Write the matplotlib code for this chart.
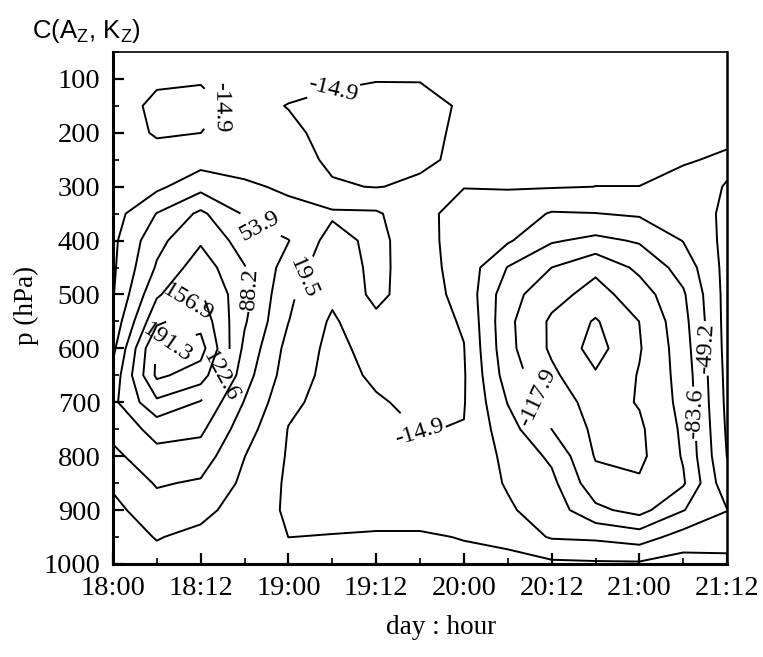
import numpy as np
import matplotlib
matplotlib.use("Agg")
import matplotlib.pyplot as plt
from matplotlib.ticker import MultipleLocator

plt.rcParams["font.family"] = ["Liberation Serif", "DejaVu Serif"]

############ Data: C(Az, Kz) cross-section (6-hourly, 50 hPa)
hours = [0, 6, 12, 18, 24, 30, 36, 42, 48, 54, 60, 66, 72, 78, 84]
pressure = [50, 100, 150, 200, 250, 300, 350, 400, 450, 500,
            550, 600, 650, 700, 750, 800, 850, 900, 950, 1000]

# rows = pressure levels, cols = hours
c_az_kz = np.array([
    [  2,   0,  -2,   2,   0,  -5,  -8,  -8,  -5,    0,    2,    3,    3,    3,   5],  # 50
    [  3, -10, -12,  -2,  -4,  -8, -13, -13,  -6,    0,    2,    3,    3,    4,   5],  # 100
    [  0, -22, -25,  -5, -16, -25, -30, -28, -10,   -2,    0,    2,    2,    3,   3],  # 150
    [  0, -18, -15,  -2,  -8, -25, -35, -25,  -8,   -4,   -5,   -6,   -7,   -9, -10],  # 200
    [  2,  -3,   5,   5,  -3, -20, -30, -20,  -9,   -9,  -10,  -11,  -11,  -13, -18],  # 250
    [  3,  12,  43,  25,  14, -12, -16, -10, -14,  -13,  -13,  -15,  -15,  -22, -14],  # 300
    [  5,  55,  95,  50,  30,  25,  24,  -5, -28,  -30,  -52,  -50,  -45,  -35,  -8],  # 350
    [ 12,  78, 118,  72,  55,   5,  30,  -3, -30,  -45,  -80,  -92,  -80,  -48,  -5],  # 400
    [ 14,  92, 142,  90,  40,  -5,  30,  -2, -28,  -85, -118, -145, -110,  -70,  -3],  # 450
    [ 17, 118, 160, 100,  25,  -8,  28,   0, -25, -105, -140, -165, -135,  -88,  -2],  # 500
    [ 30, 150, 180,  92,  20, -20,  12,   0, -18, -110, -158, -190, -152,  -95,  -2],  # 550
    [ 45, 195, 205,  80,   8, -24,  -3,  -2, -14, -108, -158, -200, -155, -100,  -3],  # 600
    [ 65, 198, 175,  68,   2, -26, -10,  -5, -12, -100, -145, -183, -150, -105,  -5],  # 650
    [ 80, 150, 120,  52,  -8, -27, -18,  -8, -13,  -85, -130, -168, -150, -108,  -7],  # 700
    [ 65, 100,  95,  35, -16, -27, -25, -14, -16,  -70, -118, -160, -158, -112, -10],  # 750
    [ 45,  78,  72,  20, -18, -27, -28, -20, -22,  -58,  -90, -155, -160, -115, -14],  # 800
    [ 25,  57,  50,  12, -20, -25, -28, -25, -30,  -52,  -75, -140, -148, -122, -25],  # 850
    [ 10,  40,  28,   6, -20, -22, -25, -25, -35,  -45,  -65, -110, -130,  -85, -50],  # 900
    [  5,  21,  12,   3, -15, -14, -12, -12, -16,  -30,  -52,  -55,  -65,  -35, -30],  # 950
    [  3,  10,   5,   2,  -5,  -5,  -5,  -5,  -8,    3,   -8,  -10,  -10,    0,  -5],  # 1000
])

levels = [-186.6, -152.3, -117.9, -83.6, -49.2, -14.9,
          19.5, 53.9, 88.2, 122.6, 156.9, 191.3]

tick_hours = [0, 12, 24, 36, 48, 60, 72, 84]
tick_labels = ["18:00", "18:12", "19:00", "19:12", "20:00", "20:12", "21:00", "21:12"]
p_ticks = [100, 200, 300, 400, 500, 600, 700, 800, 900, 1000]

# where the contour labels sit (hour, hPa)
label_spots = [(14.9, 154), (30.4, 139), (20.6, 358), (18.8, 490), (26.5, 472),
               (10.5, 518), (7.8, 606), (14.5, 650), (41.0, 768), (57.3, 698),
               (81.2, 600), (78.7, 722)]

# --- Figure ---
fig = plt.figure(figsize=(7.63, 6.57), dpi=100)
ax = fig.add_axes([0.148, 0.1416, 0.805, 0.7793])

cs = ax.contour(hours, pressure, c_az_kz, levels=levels, colors="k",
                linewidths=1.4, linestyles="solid")
ax.clabel(cs, fmt="%.1f", fontsize=17.5, inline=True, inline_spacing=2,
          manual=label_spots)

ax.set_xlim(0, 84)
ax.set_ylim(1000, 50)
ax.set_xticks(tick_hours)
ax.set_xticklabels(tick_labels)
ax.set_yticks(p_ticks)
ax.xaxis.set_minor_locator(MultipleLocator(6))
ax.yaxis.set_minor_locator(MultipleLocator(50))
ax.tick_params(which="both", direction="in", top=False, right=False,
               labelsize=20.5, pad=9)
ax.tick_params(which="major", length=8, width=1.6)
ax.tick_params(which="minor", length=4, width=1.2)

ax.spines["left"].set_linewidth(2.2)
ax.spines["bottom"].set_linewidth(2.2)
ax.spines["top"].set_linewidth(1.2)
ax.spines["right"].set_linewidth(1.8)

ax.set_xlabel("day : hour", fontsize=19.5)
ax.xaxis.set_label_coords(0.534, -0.1)
ax.set_ylabel("p (hPa)", fontsize=19.5)
ax.yaxis.set_label_coords(-0.12, 0.504)

fig.text(32 / 763, 1 - 38 / 657, r"C(A$_{\mathregular{Z}}$, K$_{\mathregular{Z}}$)",
         family="Liberation Sans", fontsize=18.5, va="baseline", ha="left")

fig.savefig("out.png", dpi=100)
plt.close(fig)
